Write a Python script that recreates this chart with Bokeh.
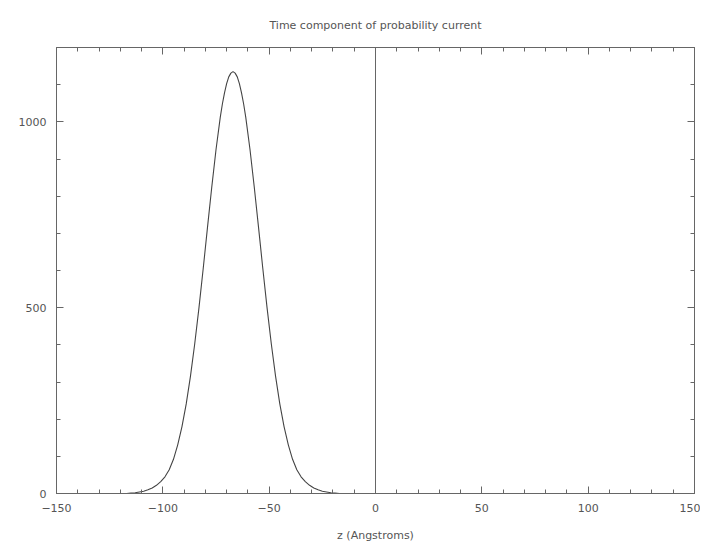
from bokeh.plotting import figure
from bokeh.models import LinearAxis, SingleIntervalTicker, Span, Range1d
from bokeh.embed import file_html
from bokeh.resources import INLINE

title_text = "Time component of probability current"
x_label = "z (Angstroms)"

z = [-150, -117, -115, -113, -111, -109, -107, -105, -103, -101, -99, -97, -95, -93, -91,
     -89, -87, -85, -83, -81, -79, -77, -75, -73, -72, -71, -70, -69, -68, -67,
     -66, -65, -64, -63, -62, -61, -59, -57, -55, -53, -51, -49, -47, -45, -43, -41,
     -39, -37, -35, -33, -31, -29, -27, -25, -23, -21, -19, -17, 150]
j0 = [0, 0, 1, 2, 4, 6, 10, 15, 22, 32, 45, 64, 92, 131, 180,
      241, 316, 403, 500, 606, 716, 824, 925, 1012, 1048, 1078, 1103, 1121, 1131, 1135,
      1131, 1121, 1103, 1078, 1048, 1012, 925, 824, 716, 606, 500, 403, 316, 241, 180, 131,
      92, 64, 45, 32, 22, 15, 10, 6, 4, 2, 1, 0, 0]

x_ticks = [-150, -100, -50, 0, 50, 100, 150]
x_tick_labels = ["\u2212150", "\u2212100", "\u221250", "0", "50", "100", "150"]
y_ticks = [0, 500, 1000]
y_tick_labels = ["0", "500", "1000"]

axis_color = "#666666"
text_color = "#555555"
font = "DejaVu Sans"

p = figure(width=700, height=545, x_range=Range1d(-150, 150), y_range=Range1d(0, 1200),
           output_backend="svg", toolbar_location=None,
           min_border_left=56, min_border_right=6, min_border_top=46, min_border_bottom=52,
           title=title_text)
p.title.align = "center"
p.title.text_font_size = "11px"
p.title.text_font_style = "normal"
p.title.text_color = text_color
p.title.text_font = font
p.title.standoff = 32
p.outline_line_color = None
p.xgrid.visible = False
p.ygrid.visible = False


def style(ax, show_labels=True):
    ax.axis_line_color = axis_color
    ax.major_tick_line_color = axis_color
    ax.minor_tick_line_color = axis_color
    ax.major_tick_in = 7
    ax.major_tick_out = 0
    ax.minor_tick_in = 4
    ax.minor_tick_out = 0
    ax.major_label_text_font = font
    if show_labels:
        ax.major_label_text_font_size = "11px"
        ax.major_label_text_color = text_color
    else:
        ax.major_label_text_font_size = "1px"
        ax.major_label_text_color = None
        ax.major_label_standoff = 0


xt = SingleIntervalTicker(interval=50, num_minor_ticks=5)
yt = SingleIntervalTicker(interval=500, num_minor_ticks=5)

p.xaxis.ticker = xt
p.yaxis.ticker = yt
p.xaxis.major_label_overrides = dict(zip(x_ticks, x_tick_labels))
p.yaxis.major_label_overrides = dict(zip(y_ticks, y_tick_labels))
style(p.xaxis[0])
style(p.yaxis[0])
p.xaxis.major_label_standoff = 10
p.yaxis.major_label_standoff = 10
p.xaxis.axis_label = x_label
p.xaxis.axis_label_text_font = font
p.xaxis.axis_label_text_font_size = "11px"
p.xaxis.axis_label_text_font_style = "normal"
p.xaxis.axis_label_text_color = text_color
p.xaxis.axis_label_standoff = 14

top = LinearAxis(ticker=SingleIntervalTicker(interval=50, num_minor_ticks=5))
style(top, False)
p.add_layout(top, "above")
right = LinearAxis(ticker=SingleIntervalTicker(interval=500, num_minor_ticks=5))
style(right, False)
p.add_layout(right, "right")

p.add_layout(Span(location=0, dimension="height", line_color=axis_color, line_width=1))

p.line(z, j0, line_color="#444444", line_width=1.1)

open("out.html", "w").write(file_html(p, INLINE))
